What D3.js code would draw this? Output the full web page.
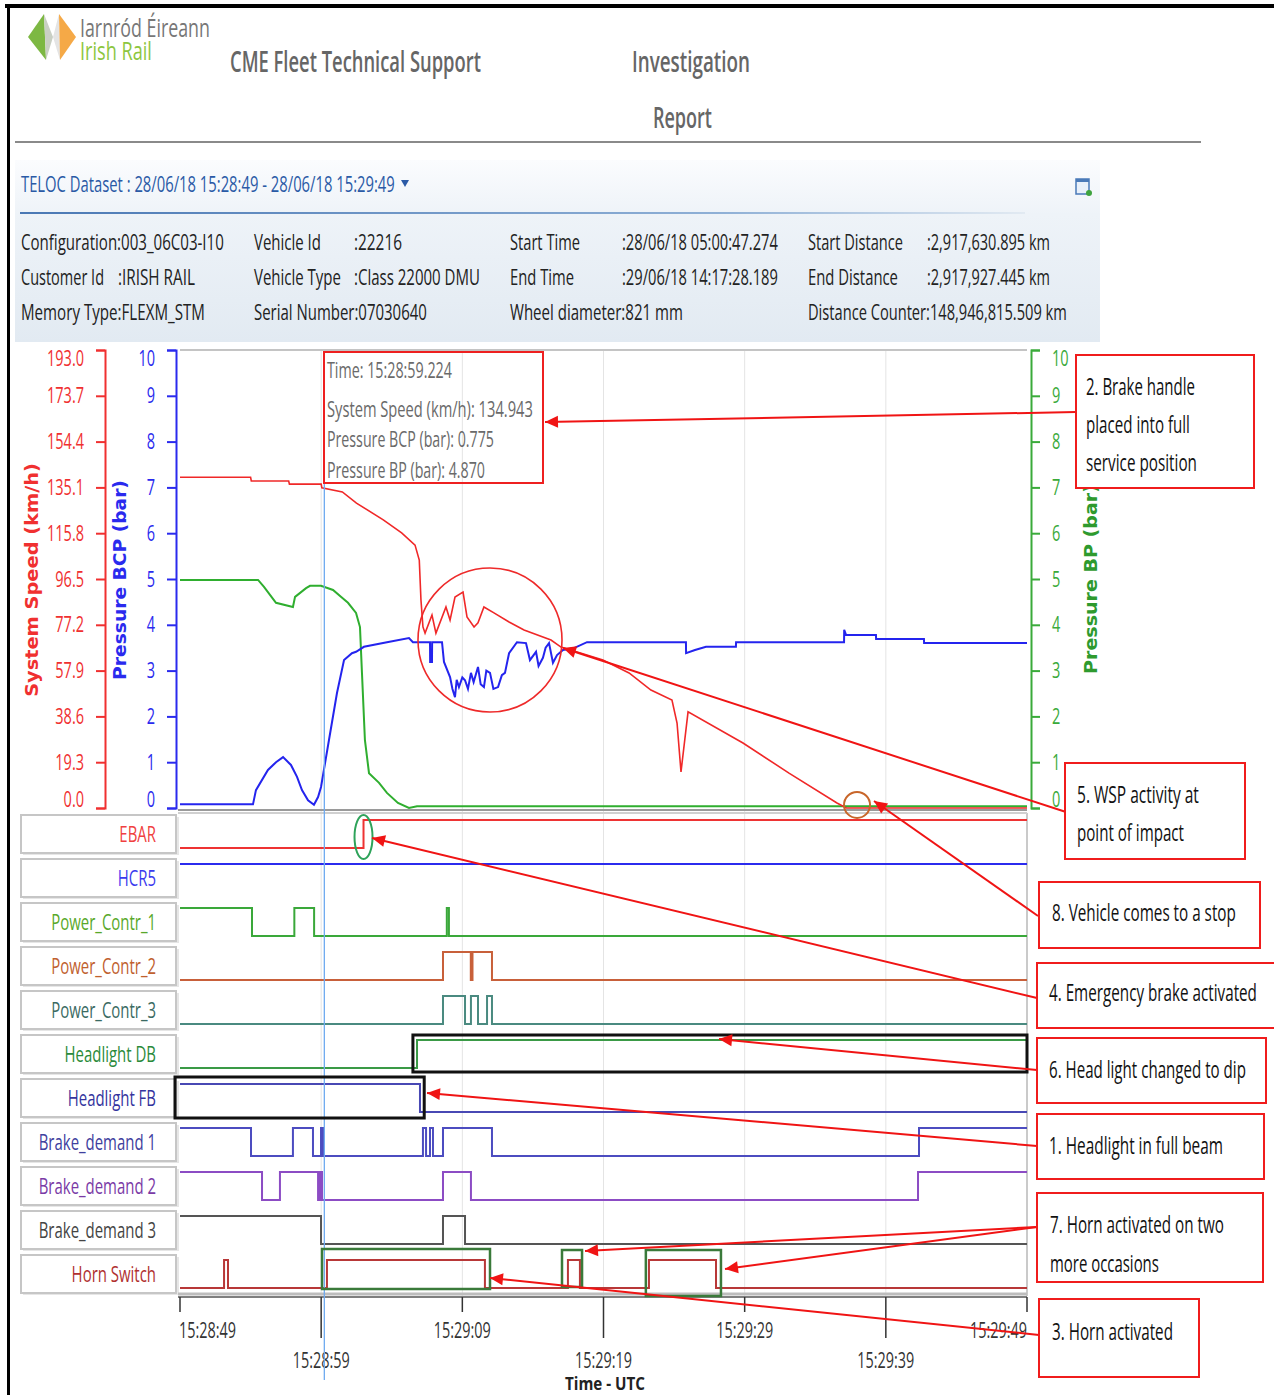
<!DOCTYPE html>
<html><head><meta charset="utf-8">
<script src="https://cdn.jsdelivr.net/npm/d3@7"></script>
<style>body{margin:0;background:#fff}svg{display:block}</style>
</head><body>
<script>
// ---------------- DATA ----------------
const timeTickLabels = ["15:28:49","15:28:59","15:29:09","15:29:19","15:29:29","15:29:39","15:29:49"];
const timeTickSec = [0,10,20,30,40,50,60];
const speedTickValues = [0,19.3,38.6,57.9,77.2,96.5,115.8,135.1,154.4,173.7,193.0];
const speedTickLabels = ["0.0","19.3","38.6","57.9","77.2","96.5","115.8","135.1","154.4","173.7","193.0"];
const pressureTicks = [0,1,2,3,4,5,6,7,8,9,10];

// seconds after 15:28:49
const speedTime = [0,5.0,5.05,7.7,7.75,10.0,10.05,11.5,12.5,14.4,15.7,16.65,16.95,17.07,17.21,17.36,17.85,18.13,18.84,19.13,19.48,20.05,20.33,20.83,21.11,21.53,22.24,23.31,24.37,26.28,26.99,29.96,31.81,33.36,34.85,35.21,35.49,35.99,39.88,43.14,46.54,47.2,60];
const speedKmh = [139.4,139.4,137.8,137.8,136.5,136.5,134.9,133.2,128.5,121.4,115.9,110.8,104.5,87.6,76.3,73.7,81.3,73.7,84.7,79.2,88.9,91.0,80.5,76.3,78.0,84.7,82.2,78.4,75.0,70.8,67.8,62.4,56.9,49.7,45.5,35.8,15.2,40.5,27.4,14.7,2.1,0,0];

const bcpTime = [0,5.17,5.38,6.23,6.80,7.30,7.86,8.29,8.64,9.07,9.49,9.78,9.99,10.55,11.12,11.62,12.18,12.47,13.03,14.66,16.22,16.50,17.71,17.72,17.85,17.86,18.56,18.70,19.13,19.3,19.48,19.6,19.76,20.0,20.19,20.4,20.61,20.8,21.11,21.3,21.53,21.7,21.96,22.2,22.53,22.8,23.02,23.31,23.87,24.51,24.79,25.22,25.4,25.71,25.9,26.14,26.42,26.71,27.13,27.91,28.83,35.84,35.85,36.48,37.26,39.38,39.39,47.04,47.05,47.18,49.30,49.31,52.70,52.71,60];
const bcpBar = [0.08,0.08,0.39,0.83,1.0,1.11,0.94,0.68,0.39,0.17,0.07,0.24,0.46,1.48,2.51,3.23,3.38,3.41,3.52,3.62,3.71,3.62,3.62,3.19,3.19,3.62,3.62,3.19,2.86,2.6,2.42,2.8,2.64,2.85,2.79,2.6,2.95,2.75,3.08,2.7,2.64,3.0,2.95,2.6,2.64,2.9,2.95,3.38,3.62,3.6,3.23,3.41,3.1,3.28,3.5,3.6,3.17,3.34,3.45,3.49,3.62,3.62,3.38,3.45,3.52,3.52,3.62,3.62,3.89,3.78,3.78,3.69,3.69,3.6,3.6];

const bpTime = [0,5.53,5.95,6.80,8.0,8.15,8.93,9.21,9.99,10.84,11.40,11.90,12.47,12.75,12.89,13.10,13.39,14.10,14.66,15.44,16.22,16.79,60];
const bpBar = [4.98,4.98,4.83,4.48,4.39,4.61,4.8,4.85,4.85,4.76,4.61,4.48,4.26,3.95,2.95,1.48,0.76,0.55,0.33,0.11,0.0,0.04,0.04];

const channelNames = ["EBAR","HCR5","Power_Contr_1","Power_Contr_2","Power_Contr_3","Headlight DB","Headlight FB","Brake_demand 1","Brake_demand 2","Brake_demand 3","Horn Switch"];
// transitions [second, state]
const sigEBAR = [[0,0],[13.0,1]];
const sigHCR5 = [[0,1]];
const sigPower1 = [[0,1],[5.1,0],[8.1,1],[9.5,0],[18.9,1],[19.05,0]];
const sigPower2 = [[0,0],[18.63,1],[20.6,0],[20.72,1],[22.1,0]];
const sigPower3 = [[0,0],[18.63,1],[20.19,0],[20.61,1],[21.11,0],[21.75,1],[22.1,0]];
const sigHeadDB = [[0,0],[16.79,1]];
const sigHeadFB = [[0,1],[17.0,0]];
const sigBrake1 = [[0,1],[5.03,0],[8.0,1],[9.42,0],[9.99,1],[10.13,0],[17.21,1],[17.43,0],[17.71,1],[17.92,0],[18.63,1],[22.1,0],[52.35,1]];
const sigBrake2 = [[0,1],[5.81,0],[7.08,1],[9.78,0],[9.92,1],[10.06,0],[18.63,1],[20.61,0],[52.28,1]];
const sigBrake3 = [[0,1],[9.99,0],[18.63,1],[20.19,0]];
const sigHorn = [[0,0],[3.12,1],[3.4,0],[10.41,1],[21.6,0],[27.48,1],[28.33,0],[33.22,1],[37.97,0]];

const cursorSec = 10.224;
const tooltipLines = ["Time: 15:28:59.224","System Speed (km/h): 134.943","Pressure BCP (bar): 0.775","Pressure BP (bar): 4.870"];

const infoRow1 = ["Configuration:003_06C03-I10","Vehicle Id",":22216","Start Time",":28/06/18 05:00:47.274","Start Distance",":2,917,630.895 km"];
const infoRow2 = ["Customer Id",":IRISH RAIL","Vehicle Type",":Class 22000 DMU","End Time",":29/06/18 14:17:28.189","End Distance",":2,917,927.445 km"];
const infoRow3 = ["Memory Type:FLEXM_STM","Serial Number:07030640","Wheel diameter:821 mm","Distance Counter:148,946,815.509 km"];

const annotationTexts = {
  a2: ["2. Brake handle","placed into full","service position"],
  a5: ["5. WSP activity at","point of impact"],
  a8: ["8. Vehicle comes to a stop"],
  a4: ["4. Emergency brake activated"],
  a6: ["6. Head light changed to dip"],
  a1: ["1.  Headlight in full beam"],
  a7: ["7. Horn activated on two","more occasions"],
  a3: ["3. Horn activated"]
};

// ---------------- DRAW ----------------
const W = 1274, H = 1395;
const FONT = "'Open Sans','Noto Sans',sans-serif";
const COND = 0.64;
const svg = d3.select("body").append("svg").attr("width", W).attr("height", H);
svg.append("rect").attr("width", W).attr("height", H).attr("fill", "#fff");

// text condensed horizontally by a transform (the reference text is narrow)
function T(parent, str, x, y, o = {}) {
  const t = parent.append("text").attr("x", 0).attr("y", 0).text(str)
    .attr("font-family", o.f || FONT).attr("font-size", o.s || 21)
    .attr("fill", o.c || "#222").attr("text-anchor", o.a || "start")
    .attr("font-weight", o.b || 400);
  const nat = t.node().getComputedTextLength();
  const k = o.w ? o.w / nat : (o.k || COND);
  t.attr("transform", `translate(${x},${y})${o.rot ? " rotate(" + o.rot + ")" : ""} scale(${k},${o.sy || 1})`);
  return t;
}

// frame
svg.append("rect").attr("x", 5).attr("y", 4).attr("width", W - 5).attr("height", 4).attr("fill", "#000");
svg.append("rect").attr("x", 7).attr("y", 4).attr("width", 3).attr("height", H).attr("fill", "#000");

// logo
const logo = svg.append("g");
logo.append("polygon").attr("points", "28,37 44,14 46,60").attr("fill", "#7db843");
logo.append("polygon").attr("points", "44,14 53,37 46,60").attr("fill", "#c9cfc4");
logo.append("polygon").attr("points", "59,14 53,37 60,60").attr("fill", "#e4e4e4");
logo.append("polygon").attr("points", "59,14 76,37 60,60").attr("fill", "#f5a947");
T(svg, "Iarnród Éireann", 80, 37, {s: 19, sy: 1.3, c: "#777", w: 130});
T(svg, "Irish Rail", 80, 60, {s: 19, sy: 1.3, c: "#8dc63f", w: 72});

// header titles
T(svg, "CME Fleet Technical Support", 230, 72, {s: 28, c: "#666", b: 600, w: 251});
T(svg, "Investigation", 632, 72, {s: 28, c: "#666", b: 600, w: 118});
T(svg, "Report", 653, 128, {s: 28, c: "#666", b: 600, w: 59});
svg.append("rect").attr("x", 15).attr("y", 141).attr("width", 1186).attr("height", 2).attr("fill", "#8a8a8a");

// dataset panel
const defs = svg.append("defs");
const pg = defs.append("linearGradient").attr("id", "panel").attr("x1", 0).attr("y1", 0).attr("x2", 0).attr("y2", 1);
pg.append("stop").attr("offset", "0").attr("stop-color", "#fbfcfe");
pg.append("stop").attr("offset", "0.3").attr("stop-color", "#eef3f8");
pg.append("stop").attr("offset", "1").attr("stop-color", "#e2eaf2");
svg.append("rect").attr("x", 15).attr("y", 160).attr("width", 1085).attr("height", 182).attr("fill", "url(#panel)");
const lg = defs.append("linearGradient").attr("id", "bl").attr("x1", 0).attr("x2", 1);
lg.append("stop").attr("offset", "0").attr("stop-color", "#4a78b4");
lg.append("stop").attr("offset", "0.7").attr("stop-color", "#8fb0d6");
lg.append("stop").attr("offset", "1").attr("stop-color", "#e2eaf2");
svg.append("rect").attr("x", 20).attr("y", 212).attr("width", 1005).attr("height", 2).attr("fill", "url(#bl)");
T(svg, "TELOC Dataset : 28/06/18 15:28:49 - 28/06/18 15:29:49", 21, 192, {s: 21, c: "#2a5aa6", w: 374});
svg.append("polygon").attr("points", "401,180 409,180 405,187").attr("fill", "#2a5aa6");
// small icon
svg.append("rect").attr("x", 1076).attr("y", 179).attr("width", 13).attr("height", 15).attr("fill", "#e8f0fa").attr("stroke", "#4a7ab8").attr("stroke-width", 1.5);
svg.append("rect").attr("x", 1076).attr("y", 179).attr("width", 13).attr("height", 3).attr("fill", "#4a7ab8");
svg.append("circle").attr("cx", 1089).attr("cy", 193).attr("r", 3).attr("fill", "#3ea33e");

const iy = [250, 285, 320];
const ic = "#222";
T(svg, infoRow1[0], 21, iy[0], {c: ic, w: 203});
T(svg, infoRow1[1], 254, iy[0], {c: ic, w: 67});
T(svg, infoRow1[2], 354, iy[0], {c: ic, w: 48});
T(svg, infoRow1[3], 510, iy[0], {c: ic, w: 70});
T(svg, infoRow1[4], 622, iy[0], {c: ic, w: 156});
T(svg, infoRow1[5], 808, iy[0], {c: ic, w: 95});
T(svg, infoRow1[6], 927, iy[0], {c: ic, w: 123});
T(svg, infoRow2[0], 21, iy[1], {c: ic, w: 83});
T(svg, infoRow2[1], 118, iy[1], {c: ic, w: 77});
T(svg, infoRow2[2], 254, iy[1], {c: ic, w: 87});
T(svg, infoRow2[3], 354, iy[1], {c: ic, w: 126});
T(svg, infoRow2[4], 510, iy[1], {c: ic, w: 64});
T(svg, infoRow2[5], 622, iy[1], {c: ic, w: 156});
T(svg, infoRow2[6], 808, iy[1], {c: ic, w: 90});
T(svg, infoRow2[7], 927, iy[1], {c: ic, w: 123});
T(svg, infoRow3[0], 21, iy[2], {c: ic, w: 184});
T(svg, infoRow3[1], 254, iy[2], {c: ic, w: 173});
T(svg, infoRow3[2], 510, iy[2], {c: ic, w: 173});
T(svg, infoRow3[3], 808, iy[2], {c: ic, w: 259});

// ---------- scales ----------
const X0 = 180, X1 = 1027;
const x = d3.scaleLinear().domain([0, 60]).range([X0, X1]);
const yP = d3.scaleLinear().domain([0, 10]).range([808, 350]);
const yS = d3.scaleLinear().domain([0, 193]).range([808, 350]);

// main plot frame / grid
const plot = svg.append("g");
plot.append("line").attr("x1", X0).attr("x2", X1).attr("y1", 350).attr("y2", 350).attr("stroke", "#c4c4c4").attr("stroke-width", 2);
timeTickSec.slice(1, -1).forEach(s => {
  plot.append("line").attr("x1", x(s)).attr("x2", x(s)).attr("y1", 351).attr("y2", 1296).attr("stroke", "#e4e4e4").attr("stroke-width", 1);
});
plot.append("line").attr("x1", X1).attr("x2", X1).attr("y1", 813).attr("y2", 1296).attr("stroke", "#b8b8b8").attr("stroke-width", 1.5);

const mk = (ts, vs, ys) => d3.line()(ts.map((t, i) => [x(t), ys(vs[i])]));
plot.append("path").attr("d", mk(bpTime, bpBar, yP)).attr("fill", "none").attr("stroke", "#2fae2f").attr("stroke-width", 2);
plot.append("path").attr("d", mk(bcpTime, bcpBar, yP)).attr("fill", "none").attr("stroke", "#2424ee").attr("stroke-width", 2);
plot.append("path").attr("d", mk(speedTime, speedKmh, yS)).attr("fill", "none").attr("stroke", "#f02828").attr("stroke-width", 1.6);

plot.append("line").attr("x1", X0 - 2).attr("x2", X1).attr("y1", 810).attr("y2", 810).attr("stroke", "#9a9a9a").attr("stroke-width", 2);
plot.append("line").attr("x1", X0 - 2).attr("x2", X1).attr("y1", 813).attr("y2", 813).attr("stroke", "#d0d0d0").attr("stroke-width", 2);

// ---------- axes ----------
function styleAxis(g, color) {
  g.select(".domain").attr("stroke", color).attr("stroke-width", 2);
  g.selectAll(".tick line").attr("stroke", color).attr("stroke-width", 2);
  g.selectAll(".tick text").attr("fill", color).attr("font-family", FONT).attr("font-size", 22);
  g.selectAll(".tick text").each(function (d, i, n) {
    const t = d3.select(this);
    const tx = +t.attr("x");
    t.attr("x", 0).attr("transform", `translate(${tx},0) scale(0.66,1)`);
    if (i === 0) t.attr("dy", "-0.05em");
    if (i === n.length - 1) t.attr("dy", "0.72em");
  });
}
const axS = svg.append("g").attr("transform", "translate(105,0)")
  .call(d3.axisLeft(yS).tickValues(speedTickValues).tickFormat((d, i) => speedTickLabels[i]).tickSize(9).tickSizeOuter(9).tickPadding(12));
styleAxis(axS, "#f03030");
const axB = svg.append("g").attr("transform", "translate(176,0)")
  .call(d3.axisLeft(yP).tickValues(pressureTicks).tickFormat(d3.format("d")).tickSize(9).tickSizeOuter(9).tickPadding(12));
styleAxis(axB, "#2a2aee");
const axG = svg.append("g").attr("transform", "translate(1031,0)")
  .call(d3.axisRight(yP).tickValues(pressureTicks).tickFormat(d3.format("d")).tickSize(9).tickSizeOuter(9).tickPadding(12));
styleAxis(axG, "#3aaa3a");

function vTitle(str, cx, cy, color, w) {
  T(svg, str, cx, cy, {s: 18, b: 700, c: color, a: "middle", w: w, rot: -90, f: "'DejaVu Sans','Open Sans',sans-serif"});
}
vTitle("System Speed (km/h)", 38, 580, "#f03030", 234);
vTitle("Pressure BCP (bar)", 126, 580, "#2a2aee", 200);
vTitle("Pressure BP (bar)", 1097, 579, "#2e9a2e", 190);

// ---------- digital channels ----------
const rowTop = i => 814 + 44 * i;
const chColors = ["#ee3333","#2b2bee","#3aa83a","#c8603a","#4a8a80","#3a9a46","#4848b4","#4c4cc0","#8c4cc4","#555555","#b83838"];
const labColors = ["#f04040","#3a3aee","#58a82a","#c0602e","#3a6a62","#2a8a3a","#34349e","#40409e","#7a3aa6","#444444","#b03030"];
const sigs = [sigEBAR, sigHCR5, sigPower1, sigPower2, sigPower3, sigHeadDB, sigHeadFB, sigBrake1, sigBrake2, sigBrake3, sigHorn];
const dig = svg.append("g");
channelNames.forEach((name, i) => {
  const top = rowTop(i);
  dig.append("rect").attr("x", 23).attr("y", top + 3).attr("width", 156).attr("height", 38).attr("fill", "#e6e6e6");
  dig.append("rect").attr("x", 21).attr("y", top + 1).attr("width", 155).attr("height", 38).attr("fill", "#fff").attr("stroke", "#c6c6c6").attr("stroke-width", 2);
  T(dig, name, 156, top + 28, {s: 22, c: labColors[i], a: "end", k: 0.68});
  const hi = top + 6, lo = top + 34;
  const pts = sigs[i].concat([[60, sigs[i][sigs[i].length - 1][1]]]);
  const ln = d3.line().curve(d3.curveStepAfter).x(d => x(d[0])).y(d => d[1] ? hi : lo);
  dig.append("path").attr("d", ln(pts)).attr("fill", "none").attr("stroke", chColors[i]).attr("stroke-width", 2);
});

// x axis
const xa = svg.append("g");
xa.append("line").attr("x1", X0 - 2).attr("x2", X1).attr("y1", 1294).attr("y2", 1294).attr("stroke", "#bdbdbd").attr("stroke-width", 3);
xa.append("line").attr("x1", X0 - 2).attr("x2", X1).attr("y1", 1297).attr("y2", 1297).attr("stroke", "#555").attr("stroke-width", 1.5);
timeTickSec.forEach((s, i) => {
  const long = i % 2 === 1;
  xa.append("line").attr("x1", x(s)).attr("x2", x(s)).attr("y1", 1297).attr("y2", long ? 1338 : 1312).attr("stroke", "#333").attr("stroke-width", 1.5);
  const anchor = i === 0 ? "start" : (i === timeTickSec.length - 1 ? "end" : "middle");
  T(xa, timeTickLabels[i], x(s) - (i === 0 ? 1 : 0), long ? 1368 : 1338, {s: 22, c: "#333", a: anchor, w: 57});
});
T(svg, "Time - UTC", 605, 1390, {s: 18, b: 700, c: "#222", a: "middle", w: 80});

// cursor
svg.append("line").attr("x1", x(cursorSec)).attr("x2", x(cursorSec)).attr("y1", 351).attr("y2", 1380).attr("stroke", "#6eaaf0").attr("stroke-width", 1.3);

// tooltip
const tt = svg.append("g");
tt.append("rect").attr("x", 324).attr("y", 352).attr("width", 219).attr("height", 131).attr("fill", "none").attr("stroke", "#ee2020").attr("stroke-width", 2);
const ttW = [125, 206, 167, 158], ttY = [378, 417, 447, 478];
tooltipLines.forEach((s, i) => T(tt, s, 327, ttY[i], {s: 21, c: "#6a6a6a", w: ttW[i]}));

// ---------- annotation marks ----------
const ann = svg.append("g");
ann.append("circle").attr("cx", x(21.96)).attr("cy", yS(70.8)).attr("r", 72).attr("fill", "none").attr("stroke", "#ee2a2a").attr("stroke-width", 1.6);
ann.append("circle").attr("cx", x(47.96)).attr("cy", yS(1.3)).attr("r", 13).attr("fill", "none").attr("stroke", "#c8662a").attr("stroke-width", 2);
ann.append("ellipse").attr("cx", x(13.0)).attr("cy", rowTop(0) + 23).attr("rx", 9).attr("ry", 22).attr("fill", "none").attr("stroke", "#2ea35a").attr("stroke-width", 2);
// headlight boxes
ann.append("rect").attr("x", x(16.5)).attr("y", rowTop(5) + 1).attr("width", X1 - x(16.5)).attr("height", 37).attr("fill", "none").attr("stroke", "#111").attr("stroke-width", 3);
ann.append("rect").attr("x", 175).attr("y", rowTop(6) - 1).attr("width", x(17.3) - 175).attr("height", 41).attr("fill", "none").attr("stroke", "#111").attr("stroke-width", 3);
// horn boxes
const hornTop = rowTop(10);
[[10.06, 21.96, -5, 40], [27.06, 28.48, -4, 37], [33.0, 38.32, -4, 46]].forEach(b => {
  ann.append("rect").attr("x", x(b[0])).attr("y", hornTop + b[2]).attr("width", x(b[1]) - x(b[0])).attr("height", b[3]).attr("fill", "none").attr("stroke", "#3a7a3a").attr("stroke-width", 2.5);
});

// arrows
function arrow(x1, y1, x2, y2) {
  ann.append("line").attr("x1", x1).attr("y1", y1).attr("x2", x2).attr("y2", y2).attr("stroke", "#f01414").attr("stroke-width", 2);
  const dx = x2 - x1, dy = y2 - y1, L = Math.hypot(dx, dy), ux = dx / L, uy = dy / L;
  const bx = x2 - ux * 13, by = y2 - uy * 13;
  ann.append("polygon").attr("points", `${x2},${y2} ${bx - uy * 6},${by + ux * 6} ${bx + uy * 6},${by - ux * 6}`).attr("fill", "#f01414");
}
arrow(1076, 412, 545, 422);
arrow(1066, 812, 563, 648);
arrow(1038, 916, 874, 801);
arrow(1037, 998, 372, 838);
arrow(1037, 1070, 719, 1039);
arrow(1037, 1146, 427, 1093);
arrow(1037, 1227, 585, 1251);
arrow(1037, 1227, 725, 1269);
arrow(1039, 1335, 490, 1278);

// annotation boxes
function annBox(x0, y0, x1, y1, lines, ys, ws, tx) {
  ann.append("rect").attr("x", x0).attr("y", y0).attr("width", x1 - x0).attr("height", y1 - y0).attr("fill", "#fff").attr("stroke", "#f01c1c").attr("stroke-width", 2);
  lines.forEach((s, i) => T(ann, s, tx, ys[i], {s: 23, c: "#111", w: ws[i]}));
}
annBox(1076, 355, 1254, 488, annotationTexts.a2, [395, 433, 471], [109, 104, 111], 1086);
annBox(1065, 763, 1245, 859, annotationTexts.a5, [803, 841], [122, 107], 1077);
annBox(1039, 882, 1260, 948, annotationTexts.a8, [921], [184], 1052);
annBox(1037, 963, 1280, 1028, annotationTexts.a4, [1001], [208], 1049);
annBox(1037, 1038, 1266, 1103, annotationTexts.a6, [1078], [197], 1049);
annBox(1037, 1114, 1264, 1179, annotationTexts.a1, [1154], [174], 1049);
annBox(1037, 1193, 1263, 1282, annotationTexts.a7, [1233, 1272], [174, 109], 1050);
annBox(1039, 1299, 1199, 1377, annotationTexts.a3, [1340], [121], 1052);
</script>
</body></html>
